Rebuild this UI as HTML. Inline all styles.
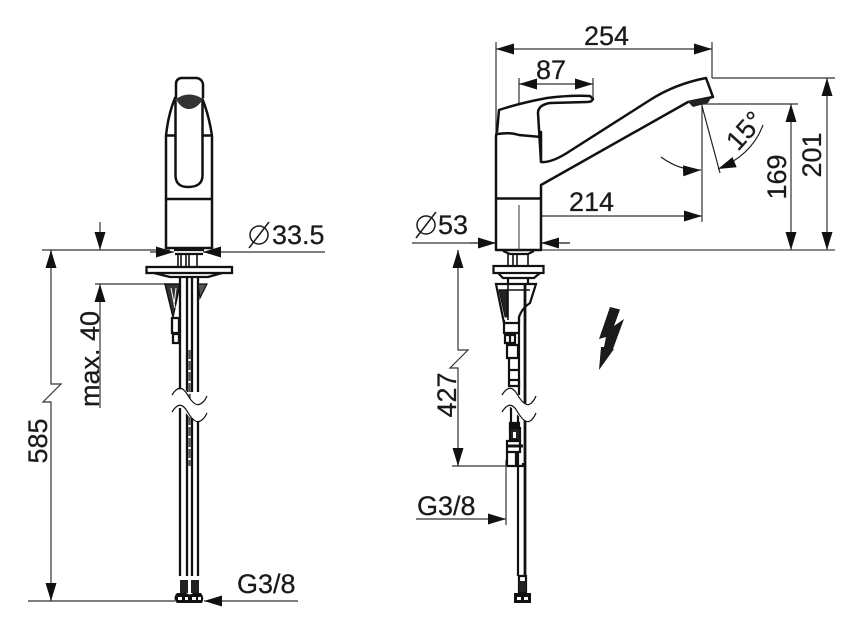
<!DOCTYPE html>
<html><head><meta charset="utf-8"><style>
html,body{margin:0;padding:0;background:#fff}
svg{display:block}
text{font-family:"Liberation Sans",sans-serif;font-size:27px;fill:#1a1a1a;stroke:#1a1a1a;stroke-width:.25px}
</style></head><body>
<svg width="866" height="630" viewBox="0 0 866 630" xmlns="http://www.w3.org/2000/svg">
<defs>
<marker id="a" viewBox="0 0 18 11" refX="18" refY="5.500" markerWidth="18" markerHeight="11" markerUnits="userSpaceOnUse" orient="auto-start-reverse"><path d="M0 0L18 5.500L0 11Z" fill="#111"/></marker>
</defs>

<!-- dimension lines -->
<g fill="none" stroke="#333" stroke-width="1.200">
<path d="M496 42V132M712 42V78M519 78V250M593 78V98M702 104V222M712 78H835M696 104H798"/>
<path d="M42 250H170M95 284H165M204 252H325M28 601H175M216 601H298"/>
<path d="M452 466H525M506 460V525M412 243H496M541 243H570"/>
<path d="M51 250V384H61L43 402H51V601"/>
<path d="M458 250V350H468L450 368H458V466"/>
</g>
<path d="M496 250H835M45 250H170" stroke="#666" stroke-width="1.500" fill="none"/>
<g fill="none" stroke="#333" stroke-width="1.200" marker-start="url(#a)" marker-end="url(#a)">
<path d="M496 49H712"/><path d="M519 84H593"/><path d="M519 216H702"/>
<path d="M827 78V250"/><path d="M791 104V250"/>
</g>
<g fill="none" stroke="#333" stroke-width="1.200">
<path d="M51 268V250" marker-end="url(#a)"/><path d="M51 583V601" marker-end="url(#a)"/>
<path d="M458 268V250" marker-end="url(#a)"/><path d="M458 448V466" marker-end="url(#a)"/>
<path d="M100 222V250" marker-end="url(#a)"/><path d="M100 408V284" marker-end="url(#a)"/>
<path d="M222 601H204" marker-end="url(#a)"/><path d="M150 252H174" marker-end="url(#a)"/><path d="M221 252H203" marker-end="url(#a)"/>
<path d="M416 519H506" marker-end="url(#a)"/><path d="M470 243H496" marker-end="url(#a)"/><path d="M570 243H541" marker-end="url(#a)"/>
</g>
<!-- angle -->
<path d="M661 157Q680 171 701 170" fill="none" stroke="#222" stroke-width="1.200" marker-end="url(#a)"/>
<path d="M763 125Q752 155 718 169" fill="none" stroke="#222" stroke-width="1.200" marker-end="url(#a)"/>
<path d="M702 106L720 173" fill="none" stroke="#222" stroke-width="1.200"/>

<!-- side view -->
<g fill="#fff" stroke="#111" stroke-width="2.500" stroke-linejoin="round">
<path d="M496 250V138Q496 134 497 132H541V162Q552 163 570 151L650 100Q675 84 706 78L713 97L688 102L541 185V250Z"/>
<path d="M497 132L499 110Q520 103 547 98Q570 95 590 96L593 99Q592 102 587 102L550 103Q538 105 538 113L541 162"/>
</g>
<path d="M497 134Q510 132 519 135L541 137" fill="none" stroke="#111" stroke-width="2.500"/>
<path d="M496 198.500H541" stroke="#111" stroke-width="2.500"/>
<path d="M687 101L711 98L708 103L693 107Z" fill="#222"/>
<path d="M519 205V250" stroke="#333"/>

<!-- side lower -->
<g fill="none" stroke="#111" stroke-width="2.200">
<path d="M503 251L510 254H528L534 251"/>
<path d="M508 254V266M513 254V266M517 254V266M528 254V266" stroke-width="1.600"/>
<rect x="493.500" y="266" width="50" height="7" fill="#fff"/>
<path d="M498 273L503 278H534L540 273M508 278V284M528 278V284"/>
<path d="M496 284H536L530 303Q522 308 519 317V323H504Z" fill="#fff"/>
<path d="M499 290L505 317L507 317V290Z" fill="#222" stroke-width="1"/>
<path d="M508 285V320M499 290H530" stroke-width="1.600"/>
<path d="M504 320V333H518M505 335H515V343H505ZM510 335V343"/>
<path d="M507 345H518V358H507ZM509 358V380H518M509 370H518M509 380H519V386H509Z"/>
<path d="M519 317V395"/>
<path d="M525 285V576" stroke-width="2.800"/>
<path d="M511 405V422M518 405V576"/>
<path d="M510 423H519V428H510Z" fill="#111"/>
<path d="M510 428H520V440H510Z" fill="#222"/>
<path d="M513 432H516V438H513Z" fill="#fff" stroke="none"/>
<path d="M507 441H520V452H507Z" fill="#fff"/>
<path d="M507 446H523" stroke-width="3"/>
<path d="M507 452V466M516 452V466"/>
<path d="M507 466H523M523 463V467"/>
<path d="M519 576H526V592H519Z"/>
</g>
<path d="M514 593H531V603H514Z" fill="#111"/>
<path d="M519 581H526V592H519Z" fill="#222"/>
<path d="M517 597H521V600H517ZM524 597H528V600H524Z" fill="#fff"/>
<path d="M502 395Q508 387 516 390Q522 405 530 405Q534 404 537 396V414Q534 421 528 421Q520 420 512 408Q506 404 502 412Z" fill="#fff"/>
<path d="M502 395Q510 382 517 394Q524 406 529 404.500Q533 403 536 396M502 412Q510 399 517 411Q524 423 529 421.500Q533 420 536 413" fill="none" stroke="#111" stroke-width="1.200"/>
<path d="M610 307L620 309.500L614 326L624 319L613 349L614 349L599 370L601 347L604 347L606 337L599 339Z" fill="#1a1a1a"/>

<!-- front view -->
<g fill="#fff" stroke="#111" stroke-width="2.500">
<path d="M166 248V136Q168 115 175 98L202 98Q209 115 212 136V248Z"/>
<path d="M176 98V84Q176 79 181 78H197Q202 79 203 84V98"/>
<path d="M175.500 100V176Q176 187 188 187Q202 187 202.500 176V100"/>
<path d="M166 135.500H175M202 135.500H212M166 199H212"/>
</g>
<path d="M176 99Q189 90 203 99Q197 109 189 109Q181 109 176 99Z" fill="#333"/>
<g fill="none" stroke="#111" stroke-width="2.300">
<path d="M174 250H204M175 254H203"/>
<path d="M178 254V266M181 254V266M186 254V266M189 254V266M197 254V266" stroke-width="1.600"/>
<rect x="146.500" y="267" width="85.500" height="6" fill="#fff"/>
<path d="M154 273L170 277H208L222 273"/>
<path d="M180 277V392M187 277V392M192 277V392M198 277V392M180 408V576M187 408V576M192 408V576M198 408V576"/>
<path d="M165 284H180L173 317Z" fill="#333" stroke-width="1.500"/>
<path d="M171 288L175 308M176 288L174 305" stroke="#fff" stroke-width="1"/>
<path d="M198 284H207L200 298Z" fill="#555" stroke-width="1.200"/>
<path d="M172 318H179V333H172ZM173 334H179V343H173Z" fill="#fff"/>
<path d="M189.500 350V466" stroke="#555" stroke-dasharray="9 2" stroke-width="2.500"/>
</g>
<path d="M180 580H188V593H180ZM191 580H199V593H191Z" fill="#222"/>
<path d="M177 593H186Q190 596 193 593H201Q205 598 202 603H177Q172 598 177 593Z" fill="#111"/>
<path d="M178 597H182V600H178ZM185 597H188V600H185ZM192 597H196V600H192ZM198 597H201V600H198Z" fill="#fff"/>
<path d="M172 395Q178 387 186 390Q192 405 200 405Q204 404 207 396V414Q204 421 198 421Q190 420 182 408Q176 404 172 412Z" fill="#fff"/>
<path d="M172 395Q180 382 187 394Q194 406 199 404.500Q204 403 207 396M172 412Q180 399 187 411Q194 423 199 421.500Q204 420 207 413" fill="none" stroke="#111" stroke-width="1.200"/>

<!-- labels -->
<text x="584" y="45">254</text>
<text x="536" y="79">87</text>
<text x="569" y="211">214</text>
<text x="272" y="244">33.5</text>
<text x="438" y="234">53</text>
<text x="237" y="593">G3/8</text>
<text x="417" y="515">G3/8</text>
<g fill="none" stroke="#1a1a1a" stroke-width="1.500">
<circle cx="259" cy="235" r="9"/><path d="M249 248L269 222"/>
<circle cx="426" cy="225" r="9"/><path d="M416 238L436 212"/>
</g>
<text transform="translate(821,155) rotate(-90)" text-anchor="middle">201</text>
<text transform="translate(786,177) rotate(-90)" text-anchor="middle">169</text>
<text transform="translate(47,441) rotate(-90)" text-anchor="middle">585</text>
<text transform="translate(456,395) rotate(-90)" text-anchor="middle">427</text>
<text transform="translate(99,359) rotate(-90)" text-anchor="middle">max. 40</text>
<text transform="translate(738,152) rotate(-48)">15°</text>
</svg>
</body></html>
